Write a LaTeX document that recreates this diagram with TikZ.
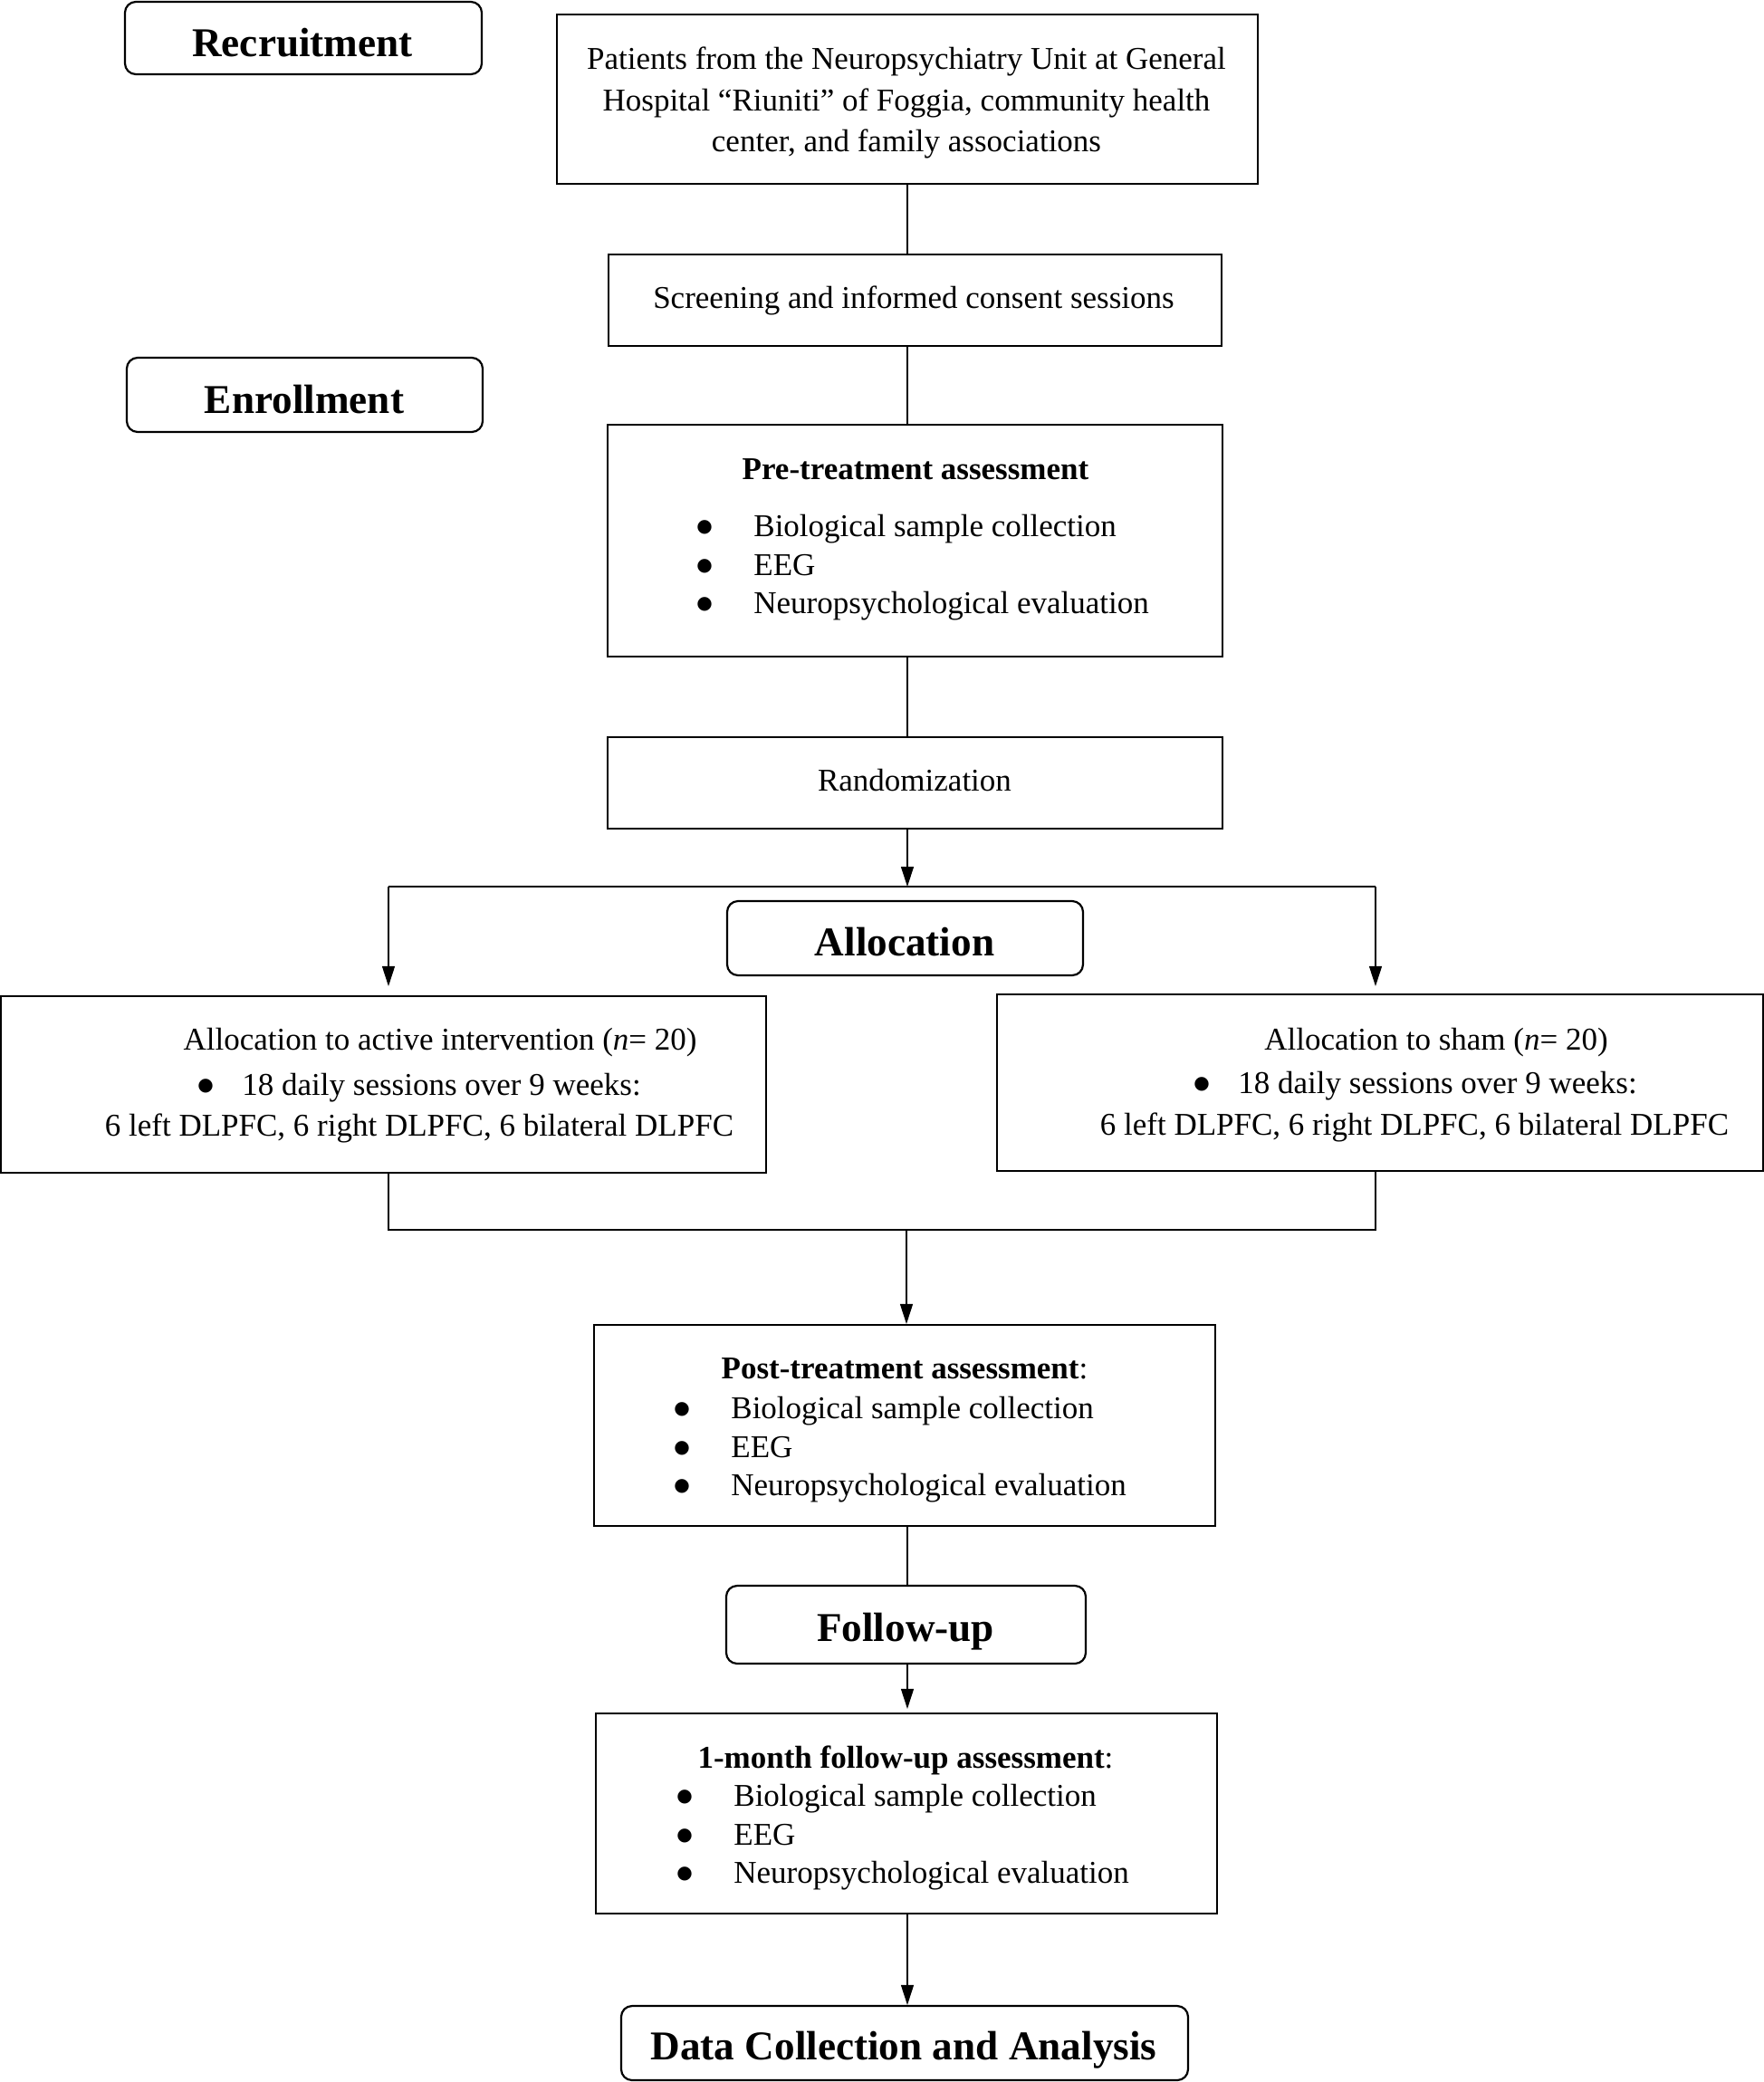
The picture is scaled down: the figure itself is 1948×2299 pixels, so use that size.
\documentclass[tikz,border=0pt]{standalone}
\usepackage{fontspec}
\setmainfont{Liberation Serif}
\newfontfamily\symfont{DejaVu Sans}
\usetikzlibrary{arrows.meta}
\newcommand{\bigbul}{\raisebox{2.2pt}{\symfont\fontsize{10}{10}\selectfont ●}}
\begin{document}
\begin{tikzpicture}[x=0.5pt,y=-0.5pt,
  box/.style={draw, line width=1.1pt, inner sep=0pt},
  stage/.style={draw, line width=1.1pt, rounded corners=6pt, inner sep=0pt},
  body/.style={inner sep=0pt, anchor=base, font=\fontsize{17.5}{21}\selectfont},
  bodyw/.style={body, anchor=base west},
  bodyb/.style={body, font=\fontsize{17.5}{21}\selectfont\bfseries},
  head/.style={inner sep=0pt, anchor=base, font=\fontsize{22.6}{27}\selectfont\bfseries},
  conn/.style={line width=0.6pt},
  arr/.style={conn, -{Triangle[length=11pt,width=7pt]}}]
\useasboundingbox (0,0) rectangle (1948,2299);
\fill[white] (0,0) rectangle (1948,2299);

% boxes
\node[stage, minimum width=197pt, minimum height=40pt] (rec) at (335,42) {};
\node[box, minimum width=387pt, minimum height=93.5pt] (pat) at (1002,109.5) {};
\node[box, minimum width=338.5pt, minimum height=50.5pt] (scr) at (1010.5,331.5) {};
\node[stage, minimum width=196.5pt, minimum height=41pt] (enr) at (336.5,436) {};
\node[box, minimum width=339.5pt, minimum height=128pt] (pre) at (1010.5,597) {};
\node[box, minimum width=339.5pt, minimum height=50.5pt] (ran) at (1010.5,864.5) {};
\node[stage, minimum width=196.5pt, minimum height=41pt] (alo) at (999.5,1036) {};
\node[box, minimum width=422.5pt, minimum height=97.5pt] (act) at (423.5,1197.5) {};
\node[box, minimum width=423pt, minimum height=97.5pt] (sham) at (1524,1195.5) {};
\node[box, minimum width=343pt, minimum height=111pt] (post) at (999,1574) {};
\node[stage, minimum width=198.5pt, minimum height=43pt] (fol) at (1000.5,1794) {};
\node[box, minimum width=343pt, minimum height=110.5pt] (mon) at (1001,2002.5) {};
\node[stage, minimum width=313pt, minimum height=41pt] (dat) at (999,2256) {};

% texts
\node[head] (trec) at (334,62) {Recruitment};
\node[body] (tpat1) at (1001,76) {Patients from the Neuropsychiatry Unit at General};
\node[body] (tpat2) at (1001,122) {Hospital “Riuniti” of Foggia, community health};
\node[body] (tpat3) at (1001,167) {center, and family associations};
\node[body] (tscr) at (1009,340) {Screening and informed consent sessions};
\node[head] (tenr) at (336,456) {Enrollment};
\node[bodyb] (tpre) at (1011,529) {Pre-treatment assessment};
\node[body] (bpre1) at (778,592) {\bigbul};
\node[body] (bpre2) at (778,635) {\bigbul};
\node[body] (bpre3) at (778,677) {\bigbul};
\node[bodyw] (ipre1) at (832,592) {Biological sample collection};
\node[bodyw] (ipre2) at (832,635) {EEG};
\node[bodyw] (ipre3) at (832,677) {Neuropsychological evaluation};
\node[body] (tran) at (1010,873) {Randomization};
\node[head] (talo) at (999,1055) {Allocation};
\node[body] (tact1) at (486,1159) {Allocation to active intervention (\textit{n}= 20)};
\node[body] (bact) at (227,1209) {\bigbul};
\node[bodyw] (tact2) at (267,1209) {18 daily sessions over 9 weeks:};
\node[body] (tact3) at (463,1254) {6 left DLPFC, 6 right DLPFC, 6 bilateral DLPFC};
\node[body] (tsham1) at (1586,1159) {Allocation to sham (\textit{n}= 20)};
\node[body] (bsham) at (1327,1207) {\bigbul};
\node[bodyw] (tsham2) at (1367,1207) {18 daily sessions over 9 weeks:};
\node[body] (tsham3) at (1562,1253) {6 left DLPFC, 6 right DLPFC, 6 bilateral DLPFC};
\node[body] (tpost) at (999,1522) {\textbf{Post-treatment assessment}:};
\node[body] (bpost1) at (753,1566) {\bigbul};
\node[body] (bpost2) at (753,1609) {\bigbul};
\node[body] (bpost3) at (753,1651) {\bigbul};
\node[bodyw] (ipost1) at (807,1566) {Biological sample collection};
\node[bodyw] (ipost2) at (807,1609) {EEG};
\node[bodyw] (ipost3) at (807,1651) {Neuropsychological evaluation};
\node[head] (tfol) at (1000,1812) {Follow-up};
\node[body] (tmon) at (1000,1952) {\textbf{1-month follow-up assessment}:};
\node[body] (bmon1) at (756,1994) {\bigbul};
\node[body] (bmon2) at (756,2037) {\bigbul};
\node[body] (bmon3) at (756,2079) {\bigbul};
\node[bodyw] (imon1) at (810,1994) {Biological sample collection};
\node[bodyw] (imon2) at (810,2037) {EEG};
\node[bodyw] (imon3) at (810,2079) {Neuropsychological evaluation};
\node[head] (tdat) at (998,2274) {Data Collection and Analysis};

% junctions
\coordinate (cx) at (1002,0);
\coordinate (split) at (1002,979);
\coordinate (lsplit) at (429,979);
\coordinate (rsplit) at (1519,979);
\coordinate (lmerge) at (429,1358);
\coordinate (rmerge) at (1519,1358);
\coordinate (cmerge) at (1001,1358);

% connectors
\draw[conn] (pat.south -| cx) -- (scr.north -| cx);
\draw[conn] (scr.south -| cx) -- (pre.north -| cx);
\draw[conn] (pre.south -| cx) -- (ran.north -| cx);
\draw[arr] (ran.south -| cx) -- (split);
\draw[conn] (lsplit) -- (rsplit);
\draw[arr, shorten >=5pt] (lsplit) -- (lsplit |- act.north);
\draw[arr, shorten >=4pt] (rsplit) -- (rsplit |- sham.north);
\draw[conn] (act.south -| lmerge) -- (lmerge) -- (rmerge) -- (sham.south -| rmerge);
\draw[arr] (cmerge) -- (cmerge |- post.north);
\draw[conn] (post.south -| cx) -- (fol.north -| cx);
\draw[arr, shorten >=2pt] (fol.south -| cx) -- (mon.north -| cx);
\draw[arr] (mon.south -| cx) -- (dat.north -| cx);
\end{tikzpicture}
\end{document}
